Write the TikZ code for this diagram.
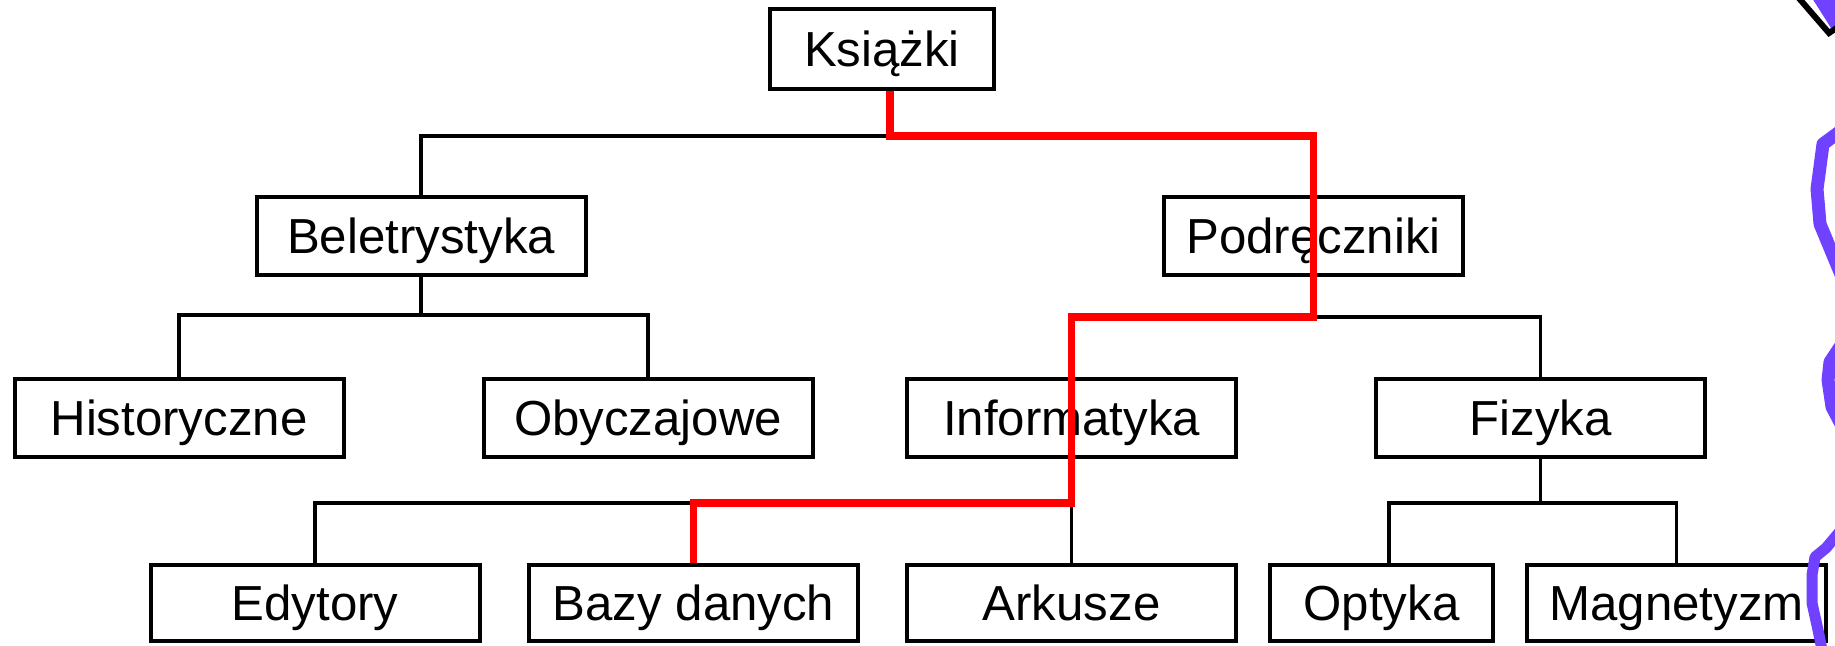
\documentclass[tikz,border=0pt]{standalone}
\usepackage{fontspec}
\setmainfont{Liberation Sans}
\definecolor{hlred}{RGB}{255,0,0}
\definecolor{scrib}{RGB}{112,66,255}
\begin{document}
\begin{tikzpicture}[x=0.5pt,y=-0.5pt,
  box/.style={draw=black, line width=2pt, fill=white, inner sep=0pt,
    font=\fontsize{24.6pt}{28pt}\selectfont, text height=17.6pt, text depth=0pt,
    minimum height=39pt, minimum width=164.5pt},
  edge/.style={draw=black, line width=1.7pt},
  hl/.style={draw=hlred, line width=3.6pt},
  scribble/.style={draw=scrib, line width=6.5pt, line join=round, line cap=round}]
\useasboundingbox (0,0) rectangle (1835,645);
\fill[white] (0,0) rectangle (1835,645);
% nodes
\node[box, minimum width=112pt, minimum height=40pt] (ks) at (882,49) {Książki};
\node[box] (bel) at (421,236) {Beletrystyka};
\node[box, minimum width=149.5pt] (pod) at (1313.5,236) {Podręczniki};
\node[box] (hist) at (179,418) {Historyczne};
\node[box] (oby) at (648,418) {Obyczajowe};
\node[box] (inf) at (1071.5,418) {Informatyka};
\node[box] (fiz) at (1540.5,418) {Fizyka};
\node[box, minimum height=38pt] (edy) at (315,603) {Edytory};
\node[box, minimum height=38pt] (baz) at (693.5,603) {Bazy danych};
\node[box, minimum height=38pt] (ark) at (1071.5,603) {Arkusze};
\node[box, minimum height=38pt, minimum width=111.5pt] (opt) at (1381.5,603) {Optyka};
\node[box, minimum height=38pt, minimum width=149.5pt] (mag) at (1676.5,603) {Magnetyzm};
% junctions
\coordinate (jk) at (890,136);
\coordinate (jb) at (421,315);
\coordinate (jp) at (1313.5,317);
\coordinate (ji) at (1071.5,503);
\coordinate (jf) at (1540.5,503);
% black connectors
\draw[edge] (bel.north) |- (jk);
\draw[edge] (bel.south) -- (jb);
\draw[edge] (hist.north) |- (jb) -| (oby.north);
\draw[edge] (pod.south) -- (jp);
\draw[edge] (inf.north) |- (jp) -| (fiz.north);
\draw[edge] (inf.south) -- (ji);
\draw[edge] (edy.north) |- (ji) -- (ark.north);
\draw[edge] (fiz.south) -- (jf);
\draw[edge] ([xshift=3.75pt]opt.north) |- (jf) -| (mag.north);
% highlighted path
\draw[hl] (ks.south -| jk) -- (jk) -| (jp) -| (ji) -| (baz.north);
% scribbles on the right edge
\fill[scrib] (1812,-2) -- (1838,-2) -- (1838,24) -- (1831,28) -- cycle;
\draw[black, line width=3pt] (1797,-4) -- (1829,33) -- (1838,27);
\draw[scribble] (1842,130) -- (1823,144) -- (1817,189) -- (1820,224) -- (1842,277);
\draw[scribble] (1842,344) -- (1830,362) -- (1828,380) -- (1832,407) -- (1842,426);
\draw[scribble, line width=5.5pt] (1842,529) -- (1826,548) -- (1815,557) -- (1812,575) -- (1812,603) -- (1818,630) -- (1822,650);
\end{tikzpicture}
\end{document}
